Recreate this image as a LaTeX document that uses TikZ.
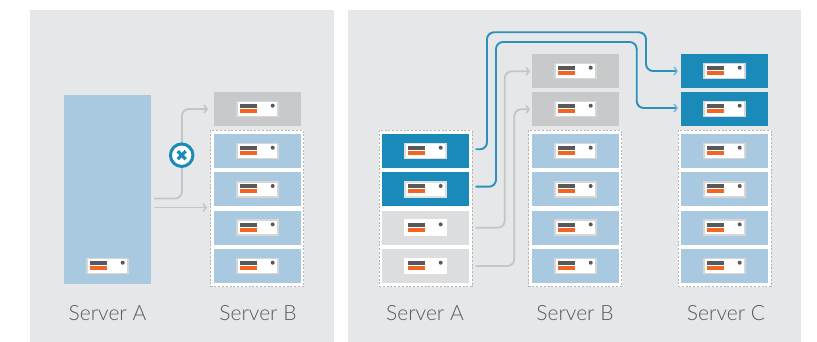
\documentclass[tikz,border=0pt]{standalone}
\usepackage{fontspec}
\setsansfont[UprightFont=* Light]{Lato}
\usetikzlibrary{arrows.meta,calc}
\definecolor{panel}{HTML}{E6E7E9}
\definecolor{lblue}{HTML}{A9C9E1}
\definecolor{dblue}{HTML}{1A8AB8}
\definecolor{mgray}{HTML}{C8C9CB}
\definecolor{lgray}{HTML}{DCDDDF}
\definecolor{dark}{HTML}{58595B}
\definecolor{orng}{HTML}{F26522}
\definecolor{wire}{HTML}{C4C5C7}
\definecolor{bwire}{HTML}{2B90BD}
\tikzset{
  x=1pt,y=-1pt,
  panelbox/.style={fill=panel,draw=none},
  unitbox/.style={draw=none,minimum width=87pt,minimum height=34pt,inner sep=0pt,outer sep=0pt},
  groupbox/.style={draw=dark!45,fill=white,line width=1pt,dash pattern=on 2pt off 1.8pt,inner sep=0pt,outer sep=0pt,minimum width=93pt,minimum height=156pt},
  plate/.style={fill=white,draw=#1,line width=1.6pt,minimum width=40.5pt,minimum height=15pt,inner sep=0pt},
  plate/.default={black!16},
  gwire/.style={draw=wire,line width=1.8pt,rounded corners=7pt,-{Straight Barb[length=3pt,width=8pt,line width=1.5pt]}},
  bwire/.style={draw=bwire,line width=1.9pt,rounded corners=7pt,-{Straight Barb[length=3pt,width=8pt,line width=1.5pt,color=bwire!65]}},
  label/.style={font=\sffamily\fontsize{21}{24}\selectfont,text=dark,inner sep=0pt,anchor=base},
}
\newcommand{\srvicon}[4]{%
  \node[plate=#4] (#1-p) at (#2,#3) {};
  \fill[dark] ($(#1-p.center)+(-17.5,-5)$) rectangle ($(#1-p.center)+(-0.8,-1)$);
  \fill[orng] ($(#1-p.center)+(-17.5,0)$) rectangle ($(#1-p.center)+(-0.8,4)$);
  \fill[dark] ($(#1-p.center)+(15.2,-3.3)$) circle (2);
}
\newcommand{\unitnode}[5]{%
  \node[unitbox,fill=#4] (#1) at (#2,#3) {};
  \srvicon{#1}{#2}{#3}{#5}%
}
\newcommand{\stackfour}[4]{%
  \unitnode{#1a}{#2}{151}{#3}{#4}
  \unitnode{#1b}{#2}{189.3}{#3}{#4}
  \unitnode{#1c}{#2}{227.7}{#3}{#4}
  \unitnode{#1d}{#2}{266}{#3}{#4}
}
\begin{document}
\begin{tikzpicture}
\useasboundingbox (0,0) rectangle (817,342);
\fill[white] (0,0) rectangle (817,342);
\fill[panelbox] (30,10) rectangle (334,342);
\fill[panelbox] (348,10) rectangle (801,342);

% left panel
\node[unitbox,fill=lblue,minimum height=189pt] (LA) at (107.5,189.5) {};
\srvicon{LAicon}{107.5}{266}{black!16}
\unitnode{LBtop}{257.5}{109}{mgray}{black!16}
\node[groupbox] (LBgroup) at (257,208.5) {};
\stackfour{LB}{257.5}{lblue}{black!16}

\coordinate (w1) at (154,198.5);
\coordinate (w2) at (154,207.5);
\draw[gwire] (w1) -| (182,109) -- (208,109);
\draw[gwire] (w2) -- (207,207.5);
\node[circle,draw=dblue,fill=white,line width=3pt,minimum size=22.5pt,inner sep=0pt] (stop) at (181.7,155.2) {};
\draw[dblue,line width=3.2pt] ($(stop)+(-4,-4)$) -- ($(stop)+(4,4)$);
\draw[dblue,line width=3.2pt] ($(stop)+(-4,4)$) -- ($(stop)+(4,-4)$);

\node[label] (t1) at (107.5,320) {Server A};
\node[label] (t2) at (258,320) {Server B};

% right panel: Server A
\node[groupbox] (RAgroup) at (425.5,208.5) {};
\unitnode{RAa}{425.5}{151}{dblue}{black!12}
\unitnode{RAb}{425.5}{189.3}{dblue}{black!12}
\unitnode{RAc}{425.5}{227.7}{lgray}{white}
\unitnode{RAd}{425.5}{266}{lgray}{white}

% Server B
\unitnode{RBt1}{575.5}{71}{mgray}{black!16}
\unitnode{RBt2}{575.5}{109}{mgray}{black!16}
\node[groupbox] (RBgroup) at (575,208.5) {};
\stackfour{RB}{575.5}{lblue}{black!16}

% Server C
\unitnode{RCt1}{724.5}{71}{dblue}{black!16}
\unitnode{RCt2}{724.5}{109}{dblue}{black!16}
\node[groupbox] (RCgroup) at (724.5,208.5) {};
\stackfour{RC}{724.5}{lblue}{black!16}

\coordinate (s1) at (475.7,149.3);
\coordinate (s2) at (475.7,186.7);
\coordinate (s3) at (475.7,227.7);
\coordinate (s4) at (475.7,266);
\draw[bwire] (s1) -| (487,32.3) -| (646,71) -- (678,71);
\draw[bwire] (s2) -| (496,42) -| (636.7,108) -- (678,108);
\draw[gwire] (s3) -| (504.7,71.3) -- (530,71.3);
\draw[gwire] (s4) -| (514.3,109.3) -- (530,109.3);

\node[label] (t3) at (425,320) {Server A};
\node[label] (t4) at (575,320) {Server B};
\node[label] (t5) at (726,320) {Server C};
\end{tikzpicture}
\end{document}
